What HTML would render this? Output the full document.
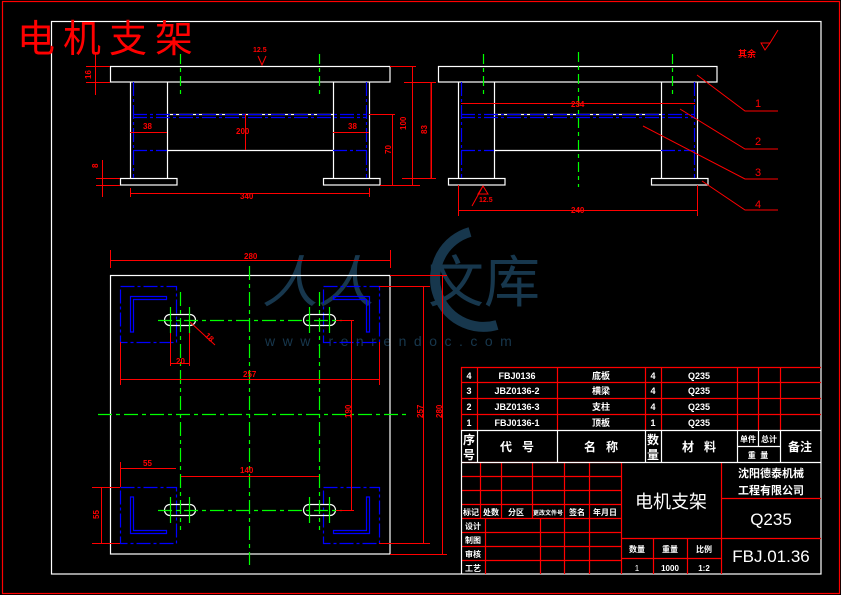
<!DOCTYPE html>
<html><head><meta charset="utf-8"><style>
html,body{margin:0;padding:0;background:#000;width:841px;height:595px;overflow:hidden}
svg{display:block}
text{font-family:"Liberation Sans","Noto Sans CJK SC",sans-serif}
</style></head><body>
<svg width="841" height="595" viewBox="0 0 841 595" xmlns="http://www.w3.org/2000/svg">
<rect x="0" y="0" width="841" height="595" fill="#000"/>
<!-- frames -->
<rect x="2.5" y="1.5" width="837" height="592" fill="none" stroke="#f00" stroke-width="1.2"/>
<rect x="51.5" y="21.5" width="769.5" height="552.5" fill="none" stroke="#fff" stroke-width="1.2"/>
<text x="17" y="52" font-size="38" fill="#f00" font-family="'Noto Sans CJK SC',sans-serif" letter-spacing="8">电机支架</text>

<!-- watermark -->
<g fill="#17374d">
<text x="262" y="302" font-size="56" font-family="'Noto Serif CJK SC',serif" font-style="italic">人人</text>
<text x="428" y="302" font-size="56" font-family="'Noto Serif CJK SC',serif">文库</text>
<text x="265" y="346" font-size="14" letter-spacing="7.5" font-family="'Liberation Serif',serif">www.renrendoc.com</text>
</g>
<path d="M470,232 A46,46 0 1 0 497,325" fill="none" stroke="#17374d" stroke-width="10"/>

<!-- ===== front view 1 ===== -->
<g fill="none" stroke="#fff" stroke-width="1.2">
<rect x="110.5" y="66.5" width="279.5" height="15.5"/>
<path d="M130.5,82V178M167.5,82V178M333.5,82V178M369.5,82V178"/>
<rect x="120.5" y="178.5" width="56.5" height="6.5"/>
<rect x="323.5" y="178.5" width="56.5" height="6.5"/>
<path d="M167,114.5H333M167,150.5H333"/>
</g>
<g fill="none" stroke="#00f" stroke-width="1.2" stroke-dasharray="14,3,3,3">
<path d="M133,114.5H367M133,117.5H367M133,150.5H167M333,150.5H367M133.5,82V178M366.5,82V178"/>
</g>
<g stroke="#0f0" stroke-width="1.2" stroke-dasharray="10,4,4,4">
<path d="M180.5,54V98M319.5,54V98"/>
</g>
<g stroke="#f00" stroke-width="1" fill="#f00">
<path d="M130,193.5H370M130.5,188V197M369.5,188V197" fill="none"/>
<path d="M245.5,114V150M130,132.5H167M333,132.5H369" fill="none"/>
<path d="M392.5,114V185M412.5,66V185M431.5,82V178M369,114.5H395M390,66.5H416M380,185.5H420M404,82.5H436M402,178.5H436" fill="none"/>
<path d="M95.5,52V95M86,66.5H110M86,82.5H110M102.5,160V197M96,178.5H120M96,185.5H120" fill="none"/>
<path d="M258,56L262,65L266,56" fill="none"/>
</g>
<g fill="#f00" font-size="8" font-weight="bold">
<text x="240" y="199">340</text>
<text x="236" y="134">200</text>
<text x="143" y="129">38</text>
<text x="348" y="129">38</text>
<text x="384" y="153" transform="rotate(-90 388 150)">70</text>
<text x="400" y="128" transform="rotate(-90 404 126)">100</text>
<text x="420" y="133" transform="rotate(-90 424 130)">83</text>
<text x="84" y="78" transform="rotate(-90 88 75)">16</text>
<text x="92" y="166" transform="rotate(-90 96 164)">8</text>
<text x="253" y="52" font-size="7">12.5</text>
</g>

<!-- ===== front view 2 ===== -->
<g fill="none" stroke="#fff" stroke-width="1.2">
<rect x="438.5" y="66.5" width="278.5" height="15.5"/>
<path d="M458.5,82V178M494.5,82V178M661.5,82V178M697.5,82V178"/>
<rect x="448.5" y="178.5" width="56.5" height="6.5"/>
<rect x="651.5" y="178.5" width="56.5" height="6.5"/>
<path d="M494,114.5H661M494,150.5H661"/>
</g>
<g fill="none" stroke="#00f" stroke-width="1.2" stroke-dasharray="14,3,3,3">
<path d="M461,114.5H695M461,117.5H695M461,150.5H494M661,150.5H695M461.5,82V178M694.5,82V178"/>
</g>
<g stroke="#0f0" stroke-width="1.2" stroke-dasharray="10,4,4,4">
<path d="M483.5,54V98M672.5,54V98M578.5,52V187"/>
</g>
<g stroke="#f00" stroke-width="1" fill="none">
<path d="M461,103.5H695M458,210.5H697M458.5,185V216M697.5,185V216M431,82V178"/>
<path d="M697,75L745,111H778M680,109L745,149H778M643,126L745,179H778M702,181L745,210H778"/>
<path d="M478,194L483,186L488,194ZM483,186L472,206"/>
<path d="M761,43L765,50L770,43ZM770,43L778,30"/>
</g>
<g fill="#f00">
<text x="571" y="107" font-size="8" font-weight="bold">234</text>
<text x="571" y="213" font-size="8" font-weight="bold">240</text>
<text x="479" y="202" font-size="7" font-weight="bold">12.5</text>
<text x="755" y="107" font-size="11" font-family="'Liberation Serif',serif">1</text>
<text x="755" y="145" font-size="11" font-family="'Liberation Serif',serif">2</text>
<text x="755" y="176" font-size="11" font-family="'Liberation Serif',serif">3</text>
<text x="755" y="208" font-size="11" font-family="'Liberation Serif',serif">4</text>
<text x="738" y="57" font-size="9" font-weight="bold">其余</text>
</g>

<!-- ===== top view ===== -->
<rect x="110.5" y="275.5" width="279.5" height="278.5" fill="none" stroke="#fff" stroke-width="1.2"/>
<g fill="none" stroke="#00f" stroke-width="1.2" stroke-dasharray="14,3,3,3">
<rect x="120.5" y="286.5" width="56" height="56"/>
<rect x="323.5" y="286.5" width="56" height="56"/>
<rect x="120.5" y="487.5" width="56" height="56"/>
<rect x="323.5" y="487.5" width="56" height="56"/>
</g>
<g fill="none" stroke="#00f" stroke-width="1.2">
<path d="M130.5,332V296.5H166.5V299.5H133.5V332Z"/>
<path d="M369.5,332V296.5H333.5V299.5H366.5V332Z"/>
<path d="M130.5,497V533.5H166.5V530.5H133.5V497Z"/>
<path d="M369.5,497V533.5H333.5V530.5H366.5V497Z"/>
</g>
<g fill="none" stroke="#fff" stroke-width="1.2">
<rect x="164.5" y="314.5" width="31" height="11" rx="5.5"/>
<rect x="303.5" y="314.5" width="32" height="11" rx="5.5"/>
<rect x="164.5" y="504.5" width="31" height="11" rx="5.5"/>
<rect x="303.5" y="504.5" width="32" height="11" rx="5.5"/>
</g>
<g stroke="#0f0" stroke-width="1.2" fill="none" stroke-dasharray="14,4,4,4">
<path d="M158,320.5H342M158,510.5H342M98,414.5H408M249.5,266V565M180.5,292V530M319.5,292V530"/>
</g>
<g stroke="#0f0" stroke-width="1.2">
<path d="M170.5,307V333M189.5,307V333M170.5,497V523M189.5,497V523M309.5,307V333M329.5,307V333M309.5,497V523M329.5,497V523"/>
</g>
<g stroke="#f00" stroke-width="1" fill="none">
<path d="M110.5,250V268M390.5,250V268M110,260.5H390"/>
<path d="M120,379.5H379M120.5,342V385M379.5,342V385"/>
<path d="M170,363.5H189M170.5,333V366M189.5,333V366M190,322L215,345"/>
<path d="M181,476.5H319M120,468.5H176M120.5,462V487"/>
<path d="M101.5,487V543M92,487.5H120M92,543.5H120"/>
<path d="M351.5,320V510M336,320.5H354M336,510.5H354"/>
<path d="M423.5,286V543M379,286.5H430M379,543.5H430"/>
<path d="M442.5,275V554M390,275.5H447M390,554.5H447"/>
</g>
<g fill="#f00" font-size="8" font-weight="bold">
<text x="244" y="259">280</text>
<text x="243" y="377">257</text>
<text x="240" y="473">140</text>
<text x="143" y="466">55</text>
<text x="176" y="364">20</text>
<text x="206" y="340" transform="rotate(45 210 336)">18</text>
<text x="342" y="419" transform="rotate(-90 346 414)">190</text>
<text x="414" y="419" transform="rotate(-90 418 414)">257</text>
<text x="433" y="419" transform="rotate(-90 437 414)">280</text>
<text x="92" y="518" transform="rotate(-90 96 515)">55</text>
</g>

<!-- ===== title block ===== -->
<g stroke="#f00" stroke-width="1.2" fill="none">
<path d="M461,367.5H821M461,382.5H821M461,398.5H821M461,414.5H821"/>
<path d="M461.5,367V430M477.5,367V430M557.5,367V430M645.5,367V430M661.5,367V430M737.5,367V430M758.5,367V430M780.5,367V430"/>
<path d="M461,462.5H621M461,476.5H621M461,490.5H621M461,504.5H621M461,518.5H621M461,532.5H621M461,546.5H621M461,560.5H621"/>
<path d="M480.5,462V518M501.5,462V518M532.5,462V518M564.5,462V574M589.5,462V574M485.5,518V574M540.5,518V574"/>
<path d="M621.5,462V574M721.5,462V574M621,538.5H821M621,558.5H721M653.5,538V574M687.5,538V574M721,498.5H821"/>
</g>
<g stroke="#fff" stroke-width="1.2" fill="none">
<path d="M461,430.5H821M461,462.5H821M461.5,430V574M477.5,430V462M557.5,430V462M645.5,430V462M661.5,430V462M737.5,430V462M780.5,430V462M758.5,430V446M737,446.5H780"/>
</g>
<g fill="#fff" font-weight="bold">
<g font-size="9" text-anchor="middle">
<text x="469" y="379">4</text><text x="469" y="394">3</text><text x="469" y="410">2</text><text x="469" y="426">1</text>
<text x="517" y="379">FBJ0136</text><text x="517" y="394">JBZ0136-2</text><text x="517" y="410">JBZ0136-3</text><text x="517" y="426">FBJ0136-1</text>
<text x="601" y="379">底板</text><text x="601" y="394">横梁</text><text x="601" y="410">支柱</text><text x="601" y="426">顶板</text>
<text x="653" y="379">4</text><text x="653" y="394">4</text><text x="653" y="410">4</text><text x="653" y="426">1</text>
<text x="699" y="379">Q235</text><text x="699" y="394">Q235</text><text x="699" y="410">Q235</text><text x="699" y="426">Q235</text>
</g>
<g font-size="12" text-anchor="middle">
<text x="469" y="444">序</text><text x="469" y="459">号</text>
<text x="517" y="451">代&#160;&#160;&#160;号</text>
<text x="601" y="451">名&#160;&#160;&#160;称</text>
<text x="653" y="444">数</text><text x="653" y="459">量</text>
<text x="699" y="451">材&#160;&#160;&#160;料</text>
<text x="800" y="451">备注</text>
</g>
<g font-size="8" text-anchor="middle">
<text x="748" y="442">单件</text><text x="769" y="442">总计</text>
<text x="758" y="458">重&#160;&#160;量</text>
<text x="471" y="515">标记</text><text x="491" y="515">处数</text><text x="516" y="515">分区</text>
<text x="548" y="515" font-size="6">更改文件号</text><text x="577" y="515">签名</text><text x="605" y="515">年月日</text>
<text x="473" y="529">设计</text><text x="473" y="543">制图</text><text x="473" y="557">审核</text><text x="473" y="571">工艺</text>
<text x="637" y="552">数量</text><text x="670" y="552">重量</text><text x="704" y="552">比例</text>
<text x="637" y="571" font-weight="normal">1</text><text x="670" y="571">1000</text><text x="704" y="571">1:2</text>
</g>
<text x="671" y="508" font-size="18" text-anchor="middle" font-weight="normal" font-family="'Noto Sans CJK SC',sans-serif">电机支架</text>
<text x="771" y="477" font-size="11" text-anchor="middle">沈阳德泰机械</text>
<text x="771" y="494" font-size="11" text-anchor="middle">工程有限公司</text>
<text x="771" y="525" font-size="17" text-anchor="middle" font-weight="normal" font-family="'Liberation Sans Narrow','Liberation Sans',sans-serif">Q235</text>
<text x="771" y="562" font-size="17" text-anchor="middle" font-weight="normal" font-family="'Liberation Sans Narrow','Liberation Sans',sans-serif">FBJ.01.36</text>
</g>
</svg>
</body></html>
